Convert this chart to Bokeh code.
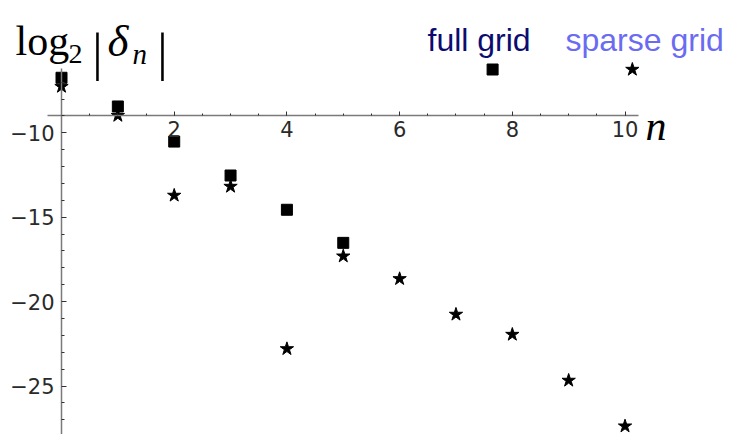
from bokeh.plotting import figure
from bokeh.models import Label, FixedTicker
from bokeh.embed import file_html
from bokeh.resources import INLINE

# ---- data ----
n_full = [0, 1, 2, 3, 4, 5]
log_full = [-6.74, -8.44, -10.52, -12.53, -14.56, -16.52]
n_sparse = [0, 1, 2, 3, 4, 5, 6, 7, 8, 9, 10]
log_sparse = [-7.26, -8.98, -13.71, -13.18, -22.8, -17.31, -18.65, -20.76, -21.95, -24.67, -27.38]
x_major = [2, 4, 6, 8, 10]
y_major = [-10, -15, -20, -25]
legend_names = ["full grid", "sparse grid"]
legend_marker_x = [7.65, 10.13]
legend_marker_y = [-6.25, -6.25]

W, H = 729, 434
p = figure(width=W, height=H, x_range=(-1.0825, 11.854), y_range=(-27.873, -2.162),
           min_border=0, toolbar_location=None, output_backend="svg")
p.outline_line_color = None
p.xgrid.visible = False
p.ygrid.visible = False
p.background_fill_color = "white"

axis_color = "#7a7a7a"
tick_font = "DejaVu Sans"

xa = p.xaxis[0]
xa.fixed_location = -9
xa.bounds = (-0.25, 10.24)
xa.ticker = FixedTicker(ticks=x_major, minor_ticks=[v * 0.5 for v in range(1, 21)])
xa.major_label_overrides = {v: str(v) for v in x_major}
xa.axis_line_color = axis_color
xa.axis_line_width = 1.3
xa.major_tick_in = 4
xa.major_tick_out = 0
xa.minor_tick_in = 2
xa.minor_tick_out = 0
xa.major_tick_line_color = "#333333"
xa.minor_tick_line_color = "#333333"
xa.major_label_text_font = tick_font
xa.major_label_text_font_size = "21px"
xa.major_label_text_color = "#2a2a2a"
xa.major_label_standoff = 5

ya = p.yaxis[0]
ya.fixed_location = 0
ya.bounds = (-27.873, -6.21)
ya.ticker = FixedTicker(ticks=y_major, minor_ticks=[-v for v in range(7, 28) if v % 5 != 0])
ya.major_label_overrides = {v: "\u2212" + str(-v) for v in y_major}
ya.axis_line_color = axis_color
ya.axis_line_width = 1.5
ya.major_tick_in = 5
ya.major_tick_out = 0
ya.minor_tick_in = 3
ya.minor_tick_out = 0
ya.major_tick_line_color = "#333333"
ya.minor_tick_line_color = "#333333"
ya.major_label_text_font = tick_font
ya.major_label_text_font_size = "21px"
ya.major_label_text_color = "#2a2a2a"
ya.major_label_standoff = 7

# data marks
p.scatter(n_full, log_full, marker="square", size=11, fill_color="black", line_color="black")
p.scatter(n_sparse, log_sparse, marker="star", size=14, fill_color="black", line_color="black")

# legend samples
p.scatter([legend_marker_x[0]], [legend_marker_y[0]], marker="square", size=11,
          fill_color="black", line_color="black")
p.scatter([legend_marker_x[1]], [legend_marker_y[1]], marker="star", size=14,
          fill_color="black", line_color="black")


def lab(text, px, py, size, font="Liberation Serif", style="normal", color="black", align="left"):
    p.add_layout(Label(x=px, y=H - py, x_units="screen", y_units="screen", text=text,
                       text_font=font, text_font_size=f"{size}px", text_font_style=style,
                       text_color=color, text_align=align, text_baseline="alphabetic"))


# title log2|delta_n|
lab("log", 15, 40, 42)
lab("2", 68, 53, 28)
lab("|", 97, 52, 52, align="center")
lab("\u03b4", 107, 40, 45, style="italic")
lab("n", 132, 53, 29, style="italic")
lab("|", 162, 52, 52, align="center")

# axis label n
lab("n", 645, 125, 42, style="italic")

# legend texts
lab(legend_names[0], 427, 39, 32, font="Liberation Sans", color="#0b0b70")
lab(legend_names[1], 565, 39, 32, font="Liberation Sans", color="#6b6bf2")

open("out.html", "w").write(file_html(p, INLINE))
